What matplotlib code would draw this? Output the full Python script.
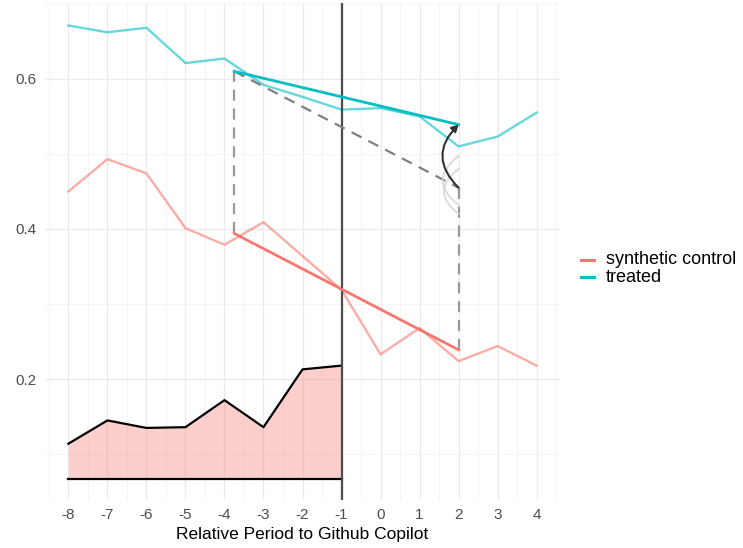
import numpy as np
import matplotlib
matplotlib.use("Agg")
import matplotlib.pyplot as plt
from matplotlib.patches import FancyArrowPatch
from matplotlib.lines import Line2D

plt.rcParams["font.family"] = ["Liberation Sans", "DejaVu Sans"]

# data
periods = np.arange(-8, 5)
treated = [0.671, 0.662, 0.668, 0.621, 0.627, 0.592, 0.576, 0.559, 0.561, 0.550, 0.510, 0.523, 0.555]
synthetic = [0.450, 0.493, 0.474, 0.401, 0.379, 0.409, 0.364, 0.319, 0.233, 0.268, 0.224, 0.244, 0.218]
pre_periods = np.arange(-8, 0)
lambda_top = [0.114, 0.145, 0.135, 0.136, 0.172, 0.136, 0.213, 0.218]
lambda_base = 0.067
pre_x, post_x = -3.75, 2.0
treated_pre, treated_post = 0.610, 0.539
sc_pre, sc_post = 0.394, 0.239
ghost_arcs = [(0.497, 0.432), (0.480, 0.420)]
legend_labels = ["synthetic control", "treated"]

c_sc = "#F8766D"
c_tr = "#00BFC4"

W, H = 743, 548
fig = plt.figure(figsize=(W / 100, H / 100), dpi=100)
left, right, top, bottom = 45, 560, 3, 500
ax = fig.add_axes([left / W, 1 - bottom / H, (right - left) / W, (bottom - top) / H])

ax.set_xlim(-8.6, 4.6)
ax.set_ylim(0.039, 0.701)

# grid like theme_minimal
for x in periods:
    ax.axvline(x, color="#EBEBEB", lw=0.9, zorder=0)
for x in np.arange(-8.5, 5, 1):
    ax.axvline(x, color="#F2F2F2", lw=0.6, zorder=0)
for y in [0.2, 0.4, 0.6]:
    ax.axhline(y, color="#EBEBEB", lw=0.9, zorder=0)
for y in [0.1, 0.3, 0.5, 0.7]:
    ax.axhline(y, color="#F2F2F2", lw=0.6, zorder=0)

# time weights area
ax.fill_between(pre_periods, lambda_base, lambda_top, color=c_sc, alpha=0.35, lw=0, zorder=1)
ax.plot(pre_periods, lambda_top, color="black", lw=1.6, zorder=2)
ax.plot([pre_periods[0], pre_periods[-1]], [lambda_base, lambda_base], color="black", lw=1.6, zorder=2)

# trajectories
ax.plot(periods, synthetic, color=c_sc, alpha=0.6, lw=1.7, zorder=3)
ax.plot(periods, treated, color=c_tr, alpha=0.6, lw=1.7, zorder=3)

# vertical treatment line
ax.axvline(-1, color="#4D4D4D", lw=1.6, zorder=4)

# diff-in-diff segments
cf_post = treated_pre + (sc_post - sc_pre)
dash = (0, (5, 3.5))
ax.plot([pre_x, post_x], [treated_pre, cf_post], color="#808080", lw=1.6, ls=dash, zorder=4)
ax.plot([pre_x, pre_x], [sc_pre, treated_pre], color="#999999", lw=1.6, ls=dash, zorder=4)
ax.plot([post_x, post_x], [sc_post, cf_post], color="#999999", lw=1.6, ls=dash, zorder=4)
ax.plot([pre_x, post_x], [sc_pre, sc_post], color=c_sc, lw=2.0, zorder=5)
ax.plot([pre_x, post_x], [treated_pre, treated_post], color=c_tr, lw=2.0, zorder=5)

for y0, y1 in ghost_arcs:
    a = FancyArrowPatch((post_x, y0), (post_x, y1), connectionstyle="arc3,rad=0.65",
                        arrowstyle="-", color="#D5D5D5", lw=1.5, alpha=0.8,
                        shrinkA=0, shrinkB=0, zorder=4)
    ax.add_patch(a)
arr = FancyArrowPatch((post_x, cf_post), (post_x, treated_post), connectionstyle="arc3,rad=-0.5",
                      arrowstyle="-|>,head_length=4,head_width=2.2", color="#333333", lw=1.5,
                      shrinkA=0, shrinkB=0, zorder=6)
ax.add_patch(arr)

ax.set_xticks(periods)
ax.set_xticklabels([str(p) for p in periods])
ax.set_yticks([0.2, 0.4, 0.6])
ax.set_yticklabels(["0.2", "0.4", "0.6"])
ax.tick_params(length=0, labelsize=11, labelcolor="#4D4D4D", pad=6)
ax.set_xlabel("Relative Period to Github Copilot", fontsize=12.5, labelpad=3)
for s in ax.spines.values():
    s.set_visible(False)

# legend drawn by hand in pixel positions
for lab, col, ypix in zip(legend_labels, [c_sc, c_tr], [260, 277]):
    fig.add_artist(Line2D([581 / W, 594 / W], [1 - ypix / H, 1 - ypix / H], color=col, lw=2.2,
                          transform=fig.transFigure))
    fig.text(606 / W, 1 - ypix / H, lab, fontsize=13, va="center", ha="left")

fig.savefig("out.png", dpi=100)
